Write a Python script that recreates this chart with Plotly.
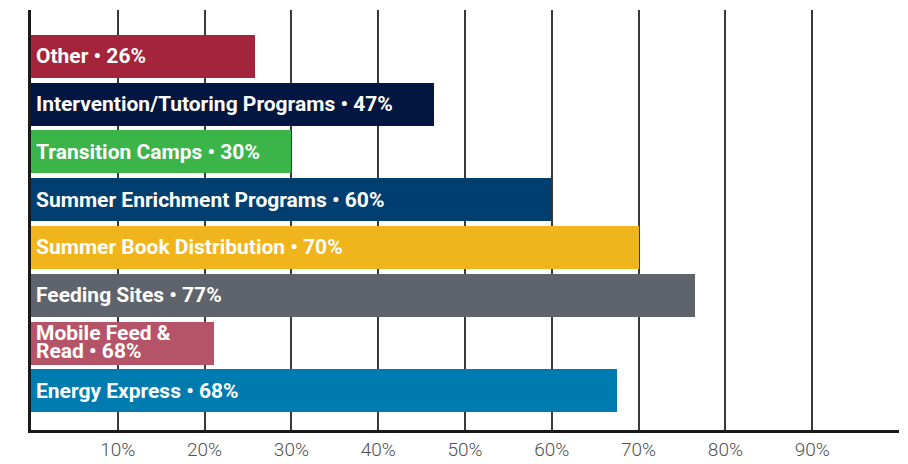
import plotly.graph_objects as go

categories = ["Energy Express", "Mobile Feed &<br>Read", "Feeding Sites", "Summer Book Distribution",
              "Summer Enrichment Programs", "Transition Camps", "Intervention/Tutoring Programs", "Other"]
label_pct = ["68%", "68%", "77%", "70%", "60%", "30%", "47%", "26%"]
bar_values = [67.5, 21.1, 76.5, 70.1, 60.0, 30.0, 46.4, 25.8]
colors = ["#007BB0", "#B55468", "#5F636B", "#F0B41C", "#003F6F", "#3BB44A", "#011640", "#A4243B"]
tick_vals = [10, 20, 30, 40, 50, 60, 70, 80, 90]
tick_text = ["10%", "20%", "30%", "40%", "50%", "60%", "70%", "80%", "90%"]

ypos = list(range(len(categories)))

fig = go.Figure()
fig.add_trace(go.Bar(
    x=bar_values, y=ypos, orientation="h",
    marker=dict(color=colors, line=dict(width=0)),
    width=0.9, hoverinfo="skip",
))

font_fam = "Roboto"
for i, (c, p) in enumerate(zip(categories, label_pct)):
    full = f"{c} • {p}"
    lines = full.split("<br>")
    n = len(lines)
    for j, ln in enumerate(lines):
        fig.add_annotation(
            x=0, y=i, xref="x", yref="y", text=ln, showarrow=False,
            xanchor="left", yanchor="middle", xshift=3,
            yshift=(n - 1) * 9 - j * 18 + (1 if n > 1 else 0),
            font=dict(family=font_fam, size=21, color="white", weight=700),
        )

fig.update_layout(
    width=900, height=456,
    margin=dict(l=23, r=9, t=2, b=34, autoexpand=False),
    paper_bgcolor="white", plot_bgcolor="white",
    showlegend=False, bargap=0,
    xaxis=dict(
        range=[0, 100], tickvals=tick_vals, ticktext=tick_text, automargin=False,
        showgrid=True, gridcolor="#3a3a3a", gridwidth=1.5,
        zeroline=False, showline=True, linecolor="#1a1a1a", linewidth=2.5,
        ticks="", tickfont=dict(family=font_fam, size=19, color="#505050", weight=300),
        fixedrange=True,
    ),
    yaxis=dict(
        range=[-0.82, 7.97], showticklabels=False, showgrid=False, automargin=False,
        zeroline=False, showline=True, linecolor="#1a1a1a", linewidth=2.5,
        ticks="", fixedrange=True,
    ),
)

fig.write_html("out.html")
